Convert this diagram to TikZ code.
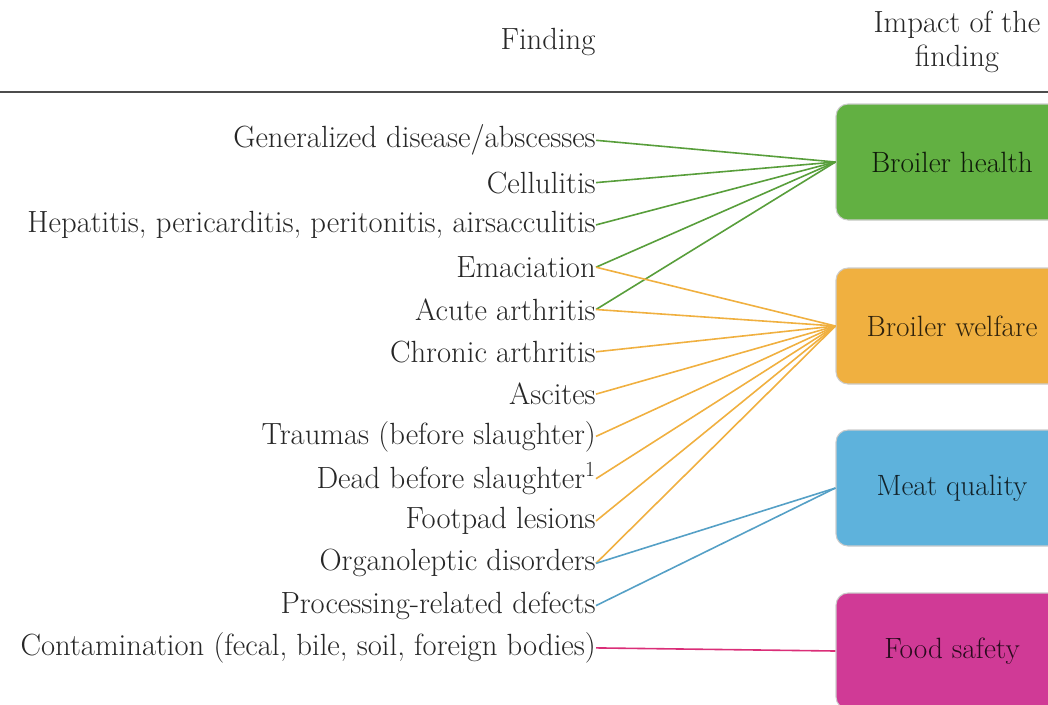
\documentclass[tikz,border=0pt]{standalone}
\usetikzlibrary{positioning}

\definecolor{healthc}{RGB}{98,176,66}
\definecolor{welfarec}{RGB}{240,176,64}
\definecolor{qualityc}{RGB}{94,178,220}
\definecolor{safetyc}{RGB}{208,58,150}

\begin{document}
\begin{tikzpicture}[x=0.75pt,y=-0.75pt,
    finding/.style={anchor=east,inner sep=0pt,text=black!85,font=\fontsize{23}{26}\selectfont},
    impact/.style={rounded corners=9pt,draw=gray!40,line width=0.8pt,minimum width=174pt,minimum height=87pt,font=\fontsize{22}{26}\selectfont},
    link/.style={line width=1.2pt}]

      \clip (0,0) rectangle (1048,704);

      % header
      \node[font=\fontsize{23}{26}\selectfont,text=black!85] (hfind) at (548,42) {Finding};
      \node[font=\fontsize{23}{26}\selectfont,text=black!85,align=center] (himp) at (957,42) {Impact of the\\finding};
      \path (0,92) coordinate (hl); \path (1048,92) coordinate (hr);
      \draw[line width=2.2pt,black!70] (hl) -- (hr);

      % findings
      \foreach \i/\t in {1/{Generalized disease/abscesses},2/Cellulitis,
          3/{Hepatitis, pericarditis, peritonitis, airsacculitis},4/Emaciation,
          5/Acute arthritis,6/Chronic arthritis,7/Ascites,
          8/Traumas (before slaughter),9/Dead before slaughter\textsuperscript{1},
          10/Footpad lesions,11/Organoleptic disorders,
          12/Processing-related defects,
          13/{Contamination (fecal, bile, soil, foreign bodies)}} {
        \node[finding] (f\i) at (596,{98+42.3*\i}) {\t};
      }

      % impacts
      \node[impact,fill=healthc,text=black!85!healthc] (health) at (952,162) {Broiler health};
      \node[impact,fill=welfarec,text=black!80!welfarec] (welfare) at (952,326) {Broiler welfare};
      \node[impact,fill=qualityc,text=black!80!qualityc] (quality) at (952,488) {Meat quality};
      \node[impact,fill=safetyc,text=black!80!safetyc] (safety) at (952,651) {Food safety};

      % links
      \foreach \i in {1,...,5} {
        \draw[link,healthc!90!black] (f\i.east) -- (health.west);
      }
      \foreach \i in {4,...,11} {
        \draw[link,welfarec] (f\i.east) -- (welfare.west);
      }
      \foreach \i in {11,12} {
        \draw[link,qualityc!90!black] (f\i.east) -- (quality.west);
      }
      \draw[link,safetyc!80!red] (f13.east) -- (safety.west);

    \end{tikzpicture}
\end{document}
